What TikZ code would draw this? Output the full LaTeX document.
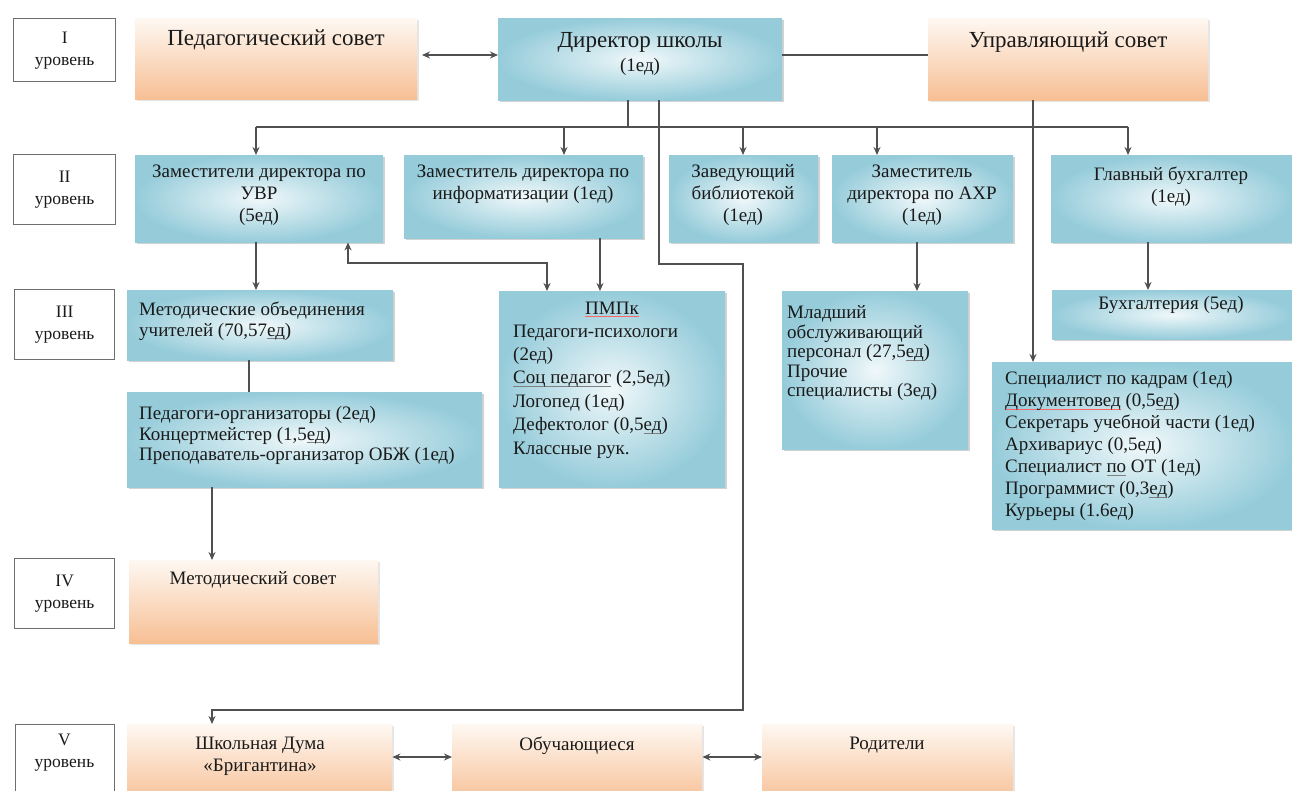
\documentclass[tikz,border=0pt]{standalone}
\usepackage{fontspec}
\setmainfont{Liberation Serif}
\usetikzlibrary{arrows.meta,shadows,calc}
\definecolor{tcol}{HTML}{1A1A1A}
\definecolor{lncol}{HTML}{505050}
\definecolor{blin}{HTML}{F0F8FA}
\definecolor{blout}{HTML}{96CCDA}
\definecolor{ortop}{HTML}{FEF8F2}
\definecolor{orbot}{HTML}{F7BF94}
\definecolor{lvlcol}{HTML}{6E6E6E}
\newcommand\ulx[2]{\setbox0\hbox{#2}\rlap{\color{#1}\rule[-3pt]{\wd0}{0.9pt}}\box0\relax}
\tikzset{
  boxbase/.style={inner sep=0pt, anchor=north west, draw=none},
  bluebox/.style={boxbase, inner color=blin, outer color=blout,
     drop shadow={shadow xshift=1.5pt, shadow yshift=-2pt, opacity=0.35}},
  orbox/.style={boxbase, top color=ortop, bottom color=orbot,
     drop shadow={shadow xshift=1.5pt, shadow yshift=-2pt, opacity=0.2}},
  lvl/.style={boxbase, fill=white, draw=lvlcol, line width=1.4pt, align=center,
     text=tcol, font=\fontsize{17.5}{22}\selectfont},
  tx/.style={inner sep=0pt, text=tcol, font=\fontsize{19}{22}\selectfont},
  big/.style={font=\fontsize{23}{26}\selectfont},
  conn/.style={draw=lncol, line width=1.5pt},
  arr/.style={-{Stealth[length=8pt,width=7pt]}},
  dbl/.style={{Stealth[length=8pt,width=7pt]}-{Stealth[length=8pt,width=7pt]}},
}
\begin{document}
\begin{tikzpicture}[x=1pt,y=-1pt]
\useasboundingbox (0,0) rectangle (1292,791);
\clip (0,0) rectangle (1292,791);
\fill[white] (0,0) rectangle (1292,791);

% level labels
\node[lvl, minimum width=102pt, minimum height=63pt] (l1) at (13,18) {I\\уровень};
\node[lvl, minimum width=102pt, minimum height=70pt] (l2) at (13,154) {II\\уровень};
\node[lvl, minimum width=100pt, minimum height=70pt] (l3) at (14,289) {III\\уровень};
\node[lvl, minimum width=100pt, minimum height=70pt] (l4) at (14,558) {IV\\уровень};
\node[lvl, minimum width=99pt, minimum height=76pt, anchor=north west, align=center] (l5) at (15,724) {};
\node[tx, font=\fontsize{17.5}{22}\selectfont, align=center, anchor=north] (l5t) at (64.5,734) {V\\уровень};

% level I
\node[orbox, minimum width=282pt, minimum height=81pt] (ped) at (135,18) {};
\node[bluebox, minimum width=284pt, minimum height=82pt] (dir) at (498,18) {};
\node[orbox, minimum width=280pt, minimum height=82pt] (upr) at (928,18) {};
\node[tx, big, anchor=north] (tped) at (276,30) {Педагогический совет};
\node[tx, big, anchor=north] (tdir) at (640,32) {Директор школы};
\node[tx, anchor=north] (tdir2) at (640,58) {(1ед)};
\node[tx, big, anchor=north] (tupr) at (1068,32) {Управляющий совет};

% level II
\node[bluebox, minimum width=248pt, minimum height=87pt] (uvr) at (135,155) {};
\node[bluebox, minimum width=239pt, minimum height=83pt] (inf) at (404,155) {};
\node[bluebox, minimum width=149pt, minimum height=87pt] (bib) at (669,155) {};
\node[bluebox, minimum width=181pt, minimum height=87pt] (axr) at (832,155) {};
\node[bluebox, minimum width=241pt, minimum height=87pt] (glb) at (1051,155) {};
\node[tx, align=center, anchor=north] (tuvr) at (259,164.5) {Заместители директора по\\УВР\\(5ед)};
\node[tx, align=center, anchor=north] (tinf) at (523,164.5) {Заместитель директора по\\информатизации (1ед)};
\node[tx, align=center, anchor=north] (tbib) at (743,164.5) {Заведующий\\библиотекой\\(1ед)};
\node[tx, align=center, anchor=north] (taxr) at (922,164.5) {Заместитель\\директора по АХР\\(1ед)};
\node[tx, align=center, anchor=north] (tglb) at (1171,167) {Главный бухгалтер\\(1ед)};

% level III
\node[bluebox, minimum width=266pt, minimum height=70pt] (metod) at (127,290) {};
\node[bluebox, minimum width=355pt, minimum height=95pt] (pedorg) at (127,392) {};
\node[bluebox, minimum width=226pt, minimum height=196pt] (pmpk) at (499,291) {};
\node[bluebox, minimum width=186pt, minimum height=158pt] (ml) at (782,291) {};
\node[bluebox, minimum width=240pt, minimum height=49pt] (buh) at (1052,290) {};
\node[bluebox, minimum width=302pt, minimum height=167pt] (spec) at (992,362) {};
\node[tx, align=left, anchor=north west, font=\fontsize{19}{21}\selectfont] (tmetod) at (139,301.5)
  {Методические объединения\\учителей (70,57\ulx{gray}{ед})};
\node[tx, align=left, anchor=north west, font=\fontsize{19}{20.5}\selectfont] (tpedorg) at (139,406.5)
  {Педагоги-организаторы (2ед)\\Концертмейстер (1,5\ulx{gray}{ед})\\Преподаватель-организатор ОБЖ (1ед)};
\node[tx, anchor=north] (tpmpk1) at (612,301.5) {\ulx{red!60}{ПМПк}};
\node[tx, align=left, anchor=north west, font=\fontsize{19}{23.4}\selectfont] (tpmpk2) at (513,324.5)
  {Педагоги-психологи\\(2ед)\\\ulx{gray}{Соц педагог} (2,5ед)\\Логопед (1ед)\\Дефектолог (0,5\ulx{gray}{ед})\\Классные рук.};
\node[tx, align=left, anchor=north west, font=\fontsize{19}{19.5}\selectfont] (tml) at (787,305.5)
  {Младший\\обслуживающий\\персонал (27,5\ulx{gray}{ед})\\Прочие\\специалисты (3ед)};
\node[tx, anchor=north] (tbuh) at (1171,296.5) {Бухгалтерия (5ед)};
\node[tx, align=left, anchor=north west, font=\fontsize{19}{22}\selectfont] (tspec) at (1005,371.5)
  {Специалист по кадрам (1ед)\\\ulx{red!60}{Документовед} (0,5\ulx{gray}{ед})\\Секретарь учебной части (1ед)\\Архивариус (0,5ед)\\Специалист \ulx{gray}{по} ОТ (1ед)\\Программист (0,3\ulx{gray}{ед})\\Курьеры (1.6ед)};

% level IV
\node[orbox, minimum width=249pt, minimum height=83pt] (metsov) at (129,560) {};
\node[tx, anchor=north] (tmetsov) at (253,571.5) {Методический совет};

% level V
\node[orbox, minimum width=265pt, minimum height=80pt] (duma) at (127,724) {};
\node[orbox, minimum width=250pt, minimum height=80pt] (obuch) at (452,724) {};
\node[orbox, minimum width=251pt, minimum height=80pt] (rod) at (762,724) {};
\node[tx, align=center, anchor=north] (tduma) at (260,736.5) {Школьная Дума\\«Бригантина»};
\node[tx, anchor=north] (tobuch) at (577,736.5) {Обучающиеся};
\node[tx, anchor=north] (trod) at (887,736.5) {Родители};

% helper coordinates
\coordinate (pd) at (422,55);
\coordinate (dirA) at (628,127);
\coordinate (busL) at (256,127);
\coordinate (busR) at (1128,127);
\coordinate (bInf) at (564,127);
\coordinate (bBib) at (743,127);
\coordinate (bAxr) at (877,127);
\coordinate (lA) at (659,264);
\coordinate (lB) at (743,264);
\coordinate (lC) at (743,710);
\coordinate (lD) at (212,710);
\coordinate (uA) at (348,263);
\coordinate (uB) at (547,263);
\coordinate (uprX) at (1033,0);
\coordinate (infX) at (600,0);
\coordinate (axrX) at (917,0);
\coordinate (glbX) at (1148,0);
\coordinate (mpX) at (249,0);
\coordinate (vy) at (0,757);

% connectors
\draw[conn,dbl] (pd) -- (dir.west |- pd);
\draw[conn] (dir.east |- pd) -- (upr.west |- pd);
\draw[conn] (dir.south -| dirA) -- (dirA);
\draw[conn] (busL) -- (busR);
\draw[conn,arr] (busL) -- (uvr.north -| busL);
\draw[conn,arr] (bInf) -- (inf.north -| bInf);
\draw[conn,arr] (bBib) -- (bib.north -| bBib);
\draw[conn,arr] (bAxr) -- (axr.north -| bAxr);
\draw[conn,arr] (busR) -- (glb.north -| busR);
\draw[conn,arr] (dir.south -| lA) -- (lA) -- (lB) -- (lC) -- (lD) -- (duma.north -| lD);
\draw[conn,arr] (upr.south -| uprX) -- (spec.north -| uprX);
\draw[conn,arr] (uvr.south -| busL) -- (metod.north -| busL);
\draw[conn,dbl] (uvr.south -| uA) -- (uA) -- (uB) -- (pmpk.north -| uB);
\draw[conn,arr] (inf.south -| infX) -- (pmpk.north -| infX);
\draw[conn,arr] (axr.south -| axrX) -- (ml.north -| axrX);
\draw[conn,arr] (glb.south -| glbX) -- (buh.north -| glbX);
\draw[conn] (metod.south -| mpX) -- (pedorg.north -| mpX);
\draw[conn,arr] (pedorg.south -| lD) -- (metsov.north -| lD);
\draw[conn,dbl] (duma.east |- vy) -- (obuch.west |- vy);
\draw[conn,dbl] (obuch.east |- vy) -- (rod.west |- vy);
\end{tikzpicture}
\end{document}
